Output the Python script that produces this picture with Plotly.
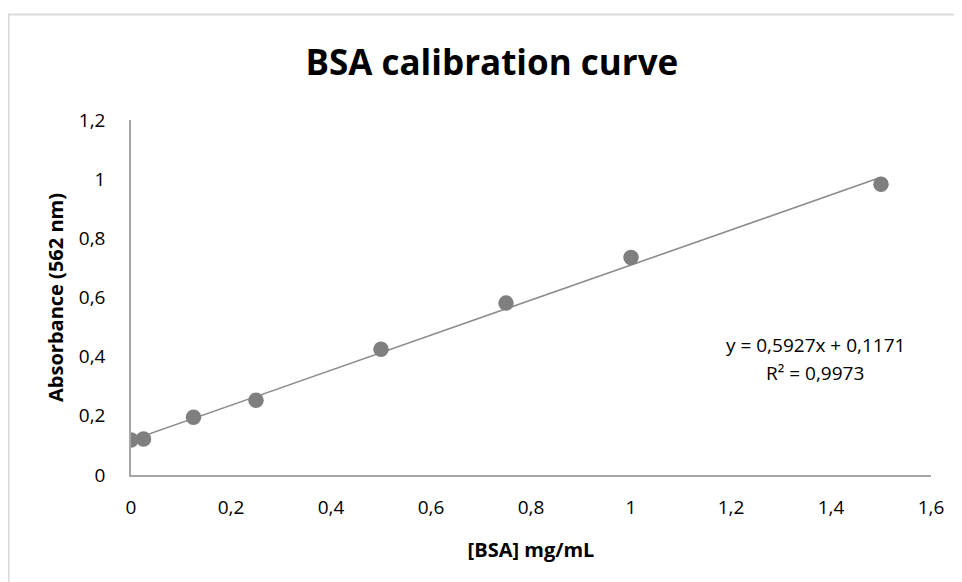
import plotly.graph_objects as go

# Data
bsa_conc = [0, 0.025, 0.125, 0.25, 0.5, 0.75, 1.0, 1.5]
absorbance = [0.118, 0.122, 0.195, 0.253, 0.425, 0.581, 0.735, 0.983]
slope = 0.5927
intercept = 0.1171
trend_x = [0, 1.5]
trend_y = [slope * x + intercept for x in trend_x]
x_ticks = [0, 0.2, 0.4, 0.6, 0.8, 1.0, 1.2, 1.4, 1.6]
x_ticklabels = ["0", "0,2", "0,4", "0,6", "0,8", "1", "1,2", "1,4", "1,6"]
y_ticks = [0, 0.2, 0.4, 0.6, 0.8, 1.0, 1.2]
y_ticklabels = ["0", "0,2", "0,4", "0,6", "0,8", "1", "1,2"]
eq_lines = ["y = 0,5927x + 0,1171", "R² = 0,9973"]

FONT = "'Open Sans', Lato, sans-serif"

fig = go.Figure()
fig.add_trace(go.Scatter(
    x=trend_x, y=trend_y, mode="lines",
    line=dict(color="#8c8c8c", width=1.6), hoverinfo="skip", showlegend=False))
fig.add_trace(go.Scatter(
    x=bsa_conc, y=absorbance, mode="markers",
    marker=dict(size=15.5, color="#7f7f7f", line=dict(width=0)),
    showlegend=False))

fig.update_layout(
    width=962, height=582,
    paper_bgcolor="white", plot_bgcolor="white",
    margin=dict(l=123, r=39, t=112, b=115, autoexpand=False),
    font=dict(family=FONT, color="#000000", size=19),
    title=dict(text="<b>BSA calibration curve</b>", x=0.503, xanchor="center",
               y=1 - 55 / 582, yref="container", yanchor="middle",
               font=dict(family=FONT, size=35, color="#000000")),
    xaxis=dict(range=[0, 1.6], tickvals=x_ticks, ticktext=x_ticklabels,
               showgrid=False, zeroline=False, showline=True, linecolor="#a6a6a6",
               linewidth=1.5, ticks="", ticklabelstandoff=14, automargin=False,
               tickfont=dict(size=19),
               title=dict(text="<b>[BSA] mg/mL</b>", standoff=24,
                          font=dict(family=FONT, size=20))),
    yaxis=dict(range=[0, 1.2], tickvals=y_ticks, ticktext=y_ticklabels,
               showgrid=False, zeroline=False, showline=True, linecolor="#a6a6a6",
               linewidth=1.5, ticks="", ticklabelstandoff=20, automargin=False,
               tickfont=dict(size=19),
               title=dict(text="<b>Absorbance (562 nm)</b>", standoff=10,
                          font=dict(family=FONT, size=20))),
    shapes=[dict(type="rect", xref="paper", yref="paper",
                 x0=-(123 - 0.5) / 800, x1=(962 - 123 + 10) / 800,
                 y0=-(115 + 10) / 355, y1=(467 - 6.5) / 355,
                 line=dict(color="#d9d9d9", width=2), fillcolor="rgba(0,0,0,0)")],
    annotations=[
        dict(text=eq_lines[0], x=1.368, y=0.439, xref="x", yref="y", showarrow=False,
             xanchor="center", yanchor="middle",
             font=dict(family=FONT, size=19, color="#000000")),
        dict(text=eq_lines[1], x=1.368, y=0.345, xref="x", yref="y", showarrow=False,
             xanchor="center", yanchor="middle",
             font=dict(family=FONT, size=19, color="#000000")),
    ],
)

fig.write_html("out.html")
